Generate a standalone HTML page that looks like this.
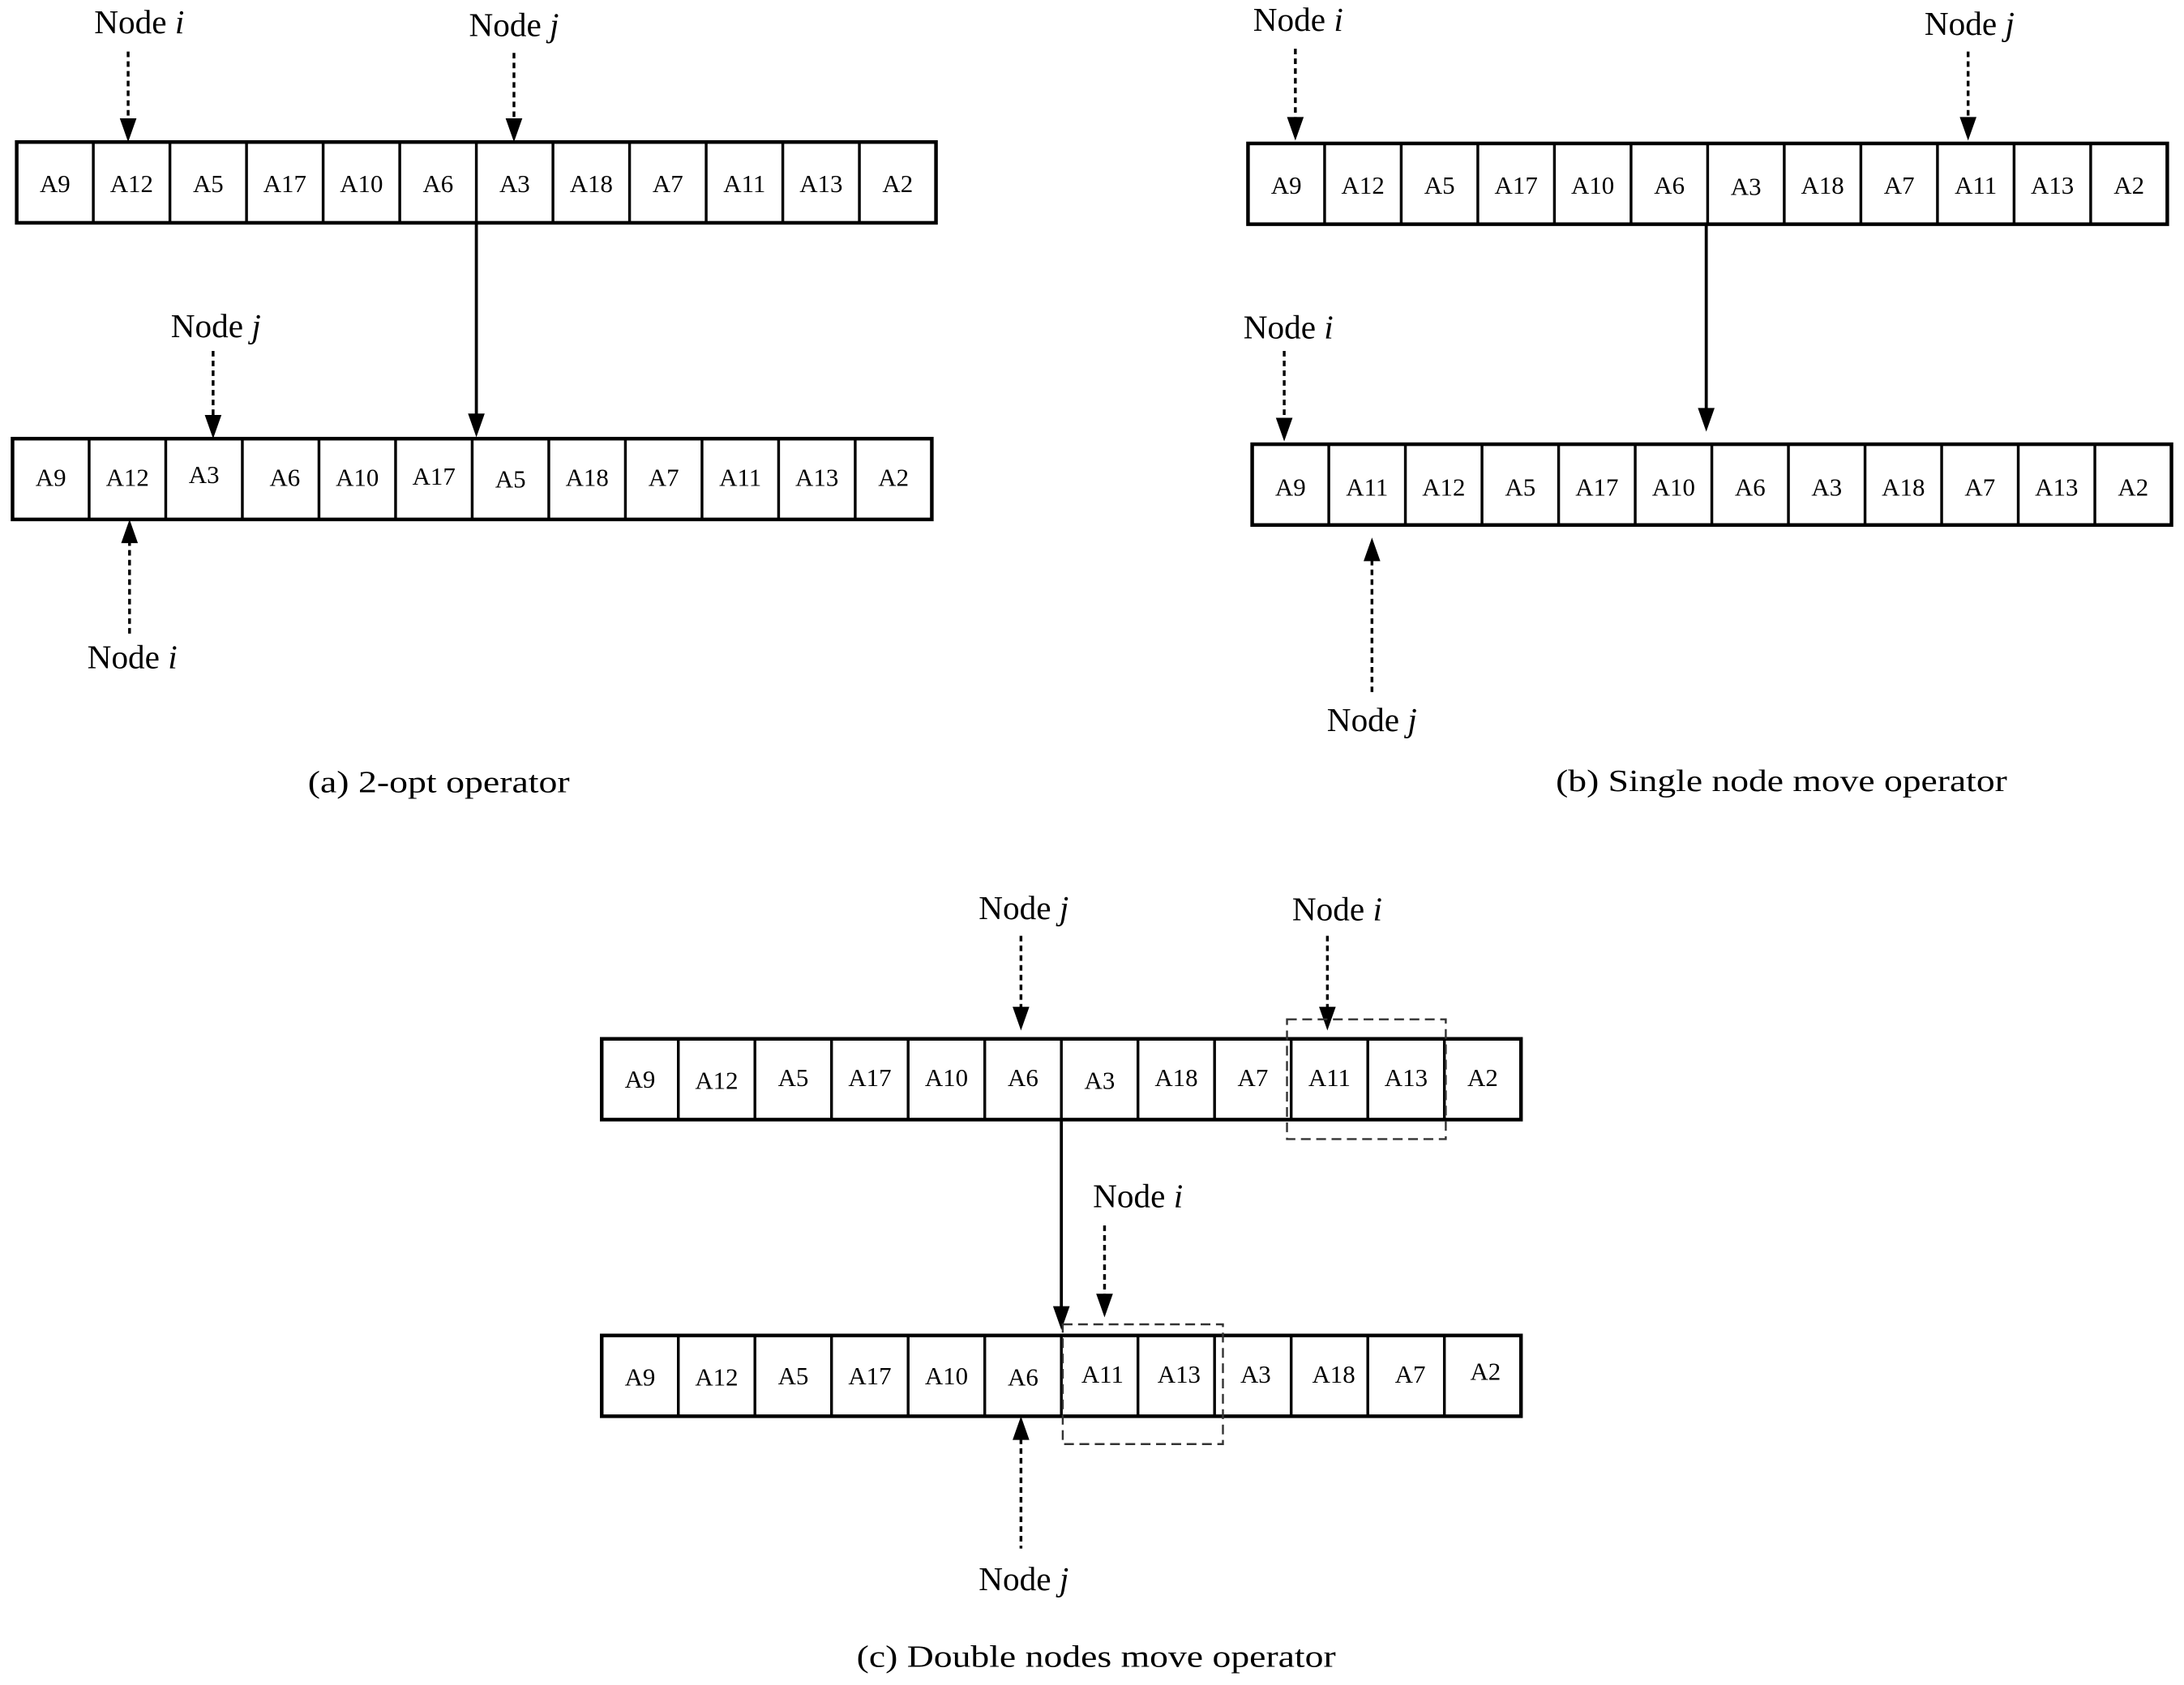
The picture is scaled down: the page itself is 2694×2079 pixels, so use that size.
<!DOCTYPE html>
<html><head><meta charset="utf-8"><style>
html,body{margin:0;padding:0;background:#fff;}
svg{display:block;}
text{font-family:"Liberation Serif",serif;fill:#000;}
.c{font-size:18px;text-anchor:middle;}
.l{font-size:24px;text-anchor:middle;}
.cap{font-size:22px;text-anchor:middle;}
.box{fill:none;stroke:#000;stroke-width:2.6;}
.dv{stroke:#000;stroke-width:2;}
.da{stroke:#000;stroke-width:2;stroke-dasharray:4 3;fill:none;}
.so{stroke:#000;stroke-width:2.2;}
.db{fill:none;stroke:#333;stroke-width:1.4;stroke-dasharray:7 4;}
</style></head><body>
<svg width="2694" height="2079" viewBox="0 0 1568 1210" preserveAspectRatio="none" xmlns="http://www.w3.org/2000/svg">
<defs>
<g id="dn"><polygon points="-6,-17 6,-17 0,0" fill="#000"/></g>
<g id="up"><polygon points="-6,17 6,17 0,0" fill="#000"/></g>
<g id="dv"><line class="dv" x1="55" y1="0" x2="55" y2="58"/><line class="dv" x1="110" y1="0" x2="110" y2="58"/><line class="dv" x1="165" y1="0" x2="165" y2="58"/><line class="dv" x1="220" y1="0" x2="220" y2="58"/><line class="dv" x1="275" y1="0" x2="275" y2="58"/><line class="dv" x1="330" y1="0" x2="330" y2="58"/><line class="dv" x1="385" y1="0" x2="385" y2="58"/><line class="dv" x1="440" y1="0" x2="440" y2="58"/><line class="dv" x1="495" y1="0" x2="495" y2="58"/><line class="dv" x1="550" y1="0" x2="550" y2="58"/><line class="dv" x1="605" y1="0" x2="605" y2="58"/><rect class="box" x="0" y="0" width="660" height="58"/></g>
</defs>

<!-- (a) -->
<text class="l" x="100" y="24">Node <tspan font-style="italic">i</tspan></text>
<line class="da" x1="92" y1="37" x2="92" y2="88"/><use href="#dn" x="92" y="102"/>
<text class="l" x="369" y="26">Node <tspan font-style="italic">j</tspan></text>
<line class="da" x1="369" y1="38" x2="369" y2="88"/><use href="#dn" x="369" y="102"/>
<use href="#dv" x="12" y="102"/>
<g class="c">
<text x="39.5" y="138">A9</text><text x="94.5" y="138">A12</text><text x="149.5" y="138">A5</text><text x="204.5" y="138">A17</text><text x="259.5" y="138">A10</text><text x="314.5" y="138">A6</text><text x="369.5" y="138">A3</text><text x="424.5" y="138">A18</text><text x="479.5" y="138">A7</text><text x="534.5" y="138">A11</text><text x="589.5" y="138">A13</text><text x="644.5" y="138">A2</text>
</g>
<line class="so" x1="342" y1="160" x2="342" y2="298"/><use href="#dn" x="342" y="314"/>
<text class="l" x="155" y="242">Node <tspan font-style="italic">j</tspan></text>
<line class="da" x1="153" y1="252" x2="153" y2="300"/><use href="#dn" x="153" y="315"/>
<use href="#dv" x="9" y="315"/>
<g class="c">
<text x="36.5" y="349">A9</text><text x="91.5" y="349">A12</text><text x="146.5" y="347">A3</text><text x="204.5" y="349">A6</text><text x="256.5" y="349">A10</text><text x="311.5" y="348">A17</text><text x="366.5" y="350">A5</text><text x="421.5" y="349">A18</text><text x="476.5" y="349">A7</text><text x="531.5" y="349">A11</text><text x="586.5" y="349">A13</text><text x="641.5" y="349">A2</text>
</g>
<use href="#up" x="93" y="373"/><line class="da" x1="93" y1="388" x2="93" y2="455"/>
<text class="l" x="95" y="480">Node <tspan font-style="italic">i</tspan></text>
<text class="cap" x="315" y="569" textLength="188" lengthAdjust="spacingAndGlyphs">(a) 2-opt operator</text>

<!-- (b) -->
<text class="l" x="932" y="22">Node <tspan font-style="italic">i</tspan></text>
<line class="da" x1="930" y1="35" x2="930" y2="86"/><use href="#dn" x="930" y="101"/>
<text class="l" x="1414" y="25">Node <tspan font-style="italic">j</tspan></text>
<line class="da" x1="1413" y1="37" x2="1413" y2="86"/><use href="#dn" x="1413" y="101"/>
<use href="#dv" x="896" y="103"/>
<g class="c">
<text x="923.5" y="139">A9</text><text x="978.5" y="139">A12</text><text x="1033.5" y="139">A5</text><text x="1088.5" y="139">A17</text><text x="1143.5" y="139">A10</text><text x="1198.5" y="139">A6</text><text x="1253.5" y="140">A3</text><text x="1308.5" y="139">A18</text><text x="1363.5" y="139">A7</text><text x="1418.5" y="139">A11</text><text x="1473.5" y="139">A13</text><text x="1528.5" y="139">A2</text>
</g>
<line class="so" x1="1225" y1="160" x2="1225" y2="294"/><use href="#dn" x="1225" y="310"/>
<text class="l" x="925" y="243">Node <tspan font-style="italic">i</tspan></text>
<line class="da" x1="922" y1="252" x2="922" y2="302"/><use href="#dn" x="922" y="317"/>
<use href="#dv" x="899" y="319"/>
<g class="c">
<text x="926.5" y="356">A9</text><text x="981.5" y="356">A11</text><text x="1036.5" y="356">A12</text><text x="1091.5" y="356">A5</text><text x="1146.5" y="356">A17</text><text x="1201.5" y="356">A10</text><text x="1256.5" y="356">A6</text><text x="1311.5" y="356">A3</text><text x="1366.5" y="356">A18</text><text x="1421.5" y="356">A7</text><text x="1476.5" y="356">A13</text><text x="1531.5" y="356">A2</text>
</g>
<use href="#up" x="985" y="386"/><line class="da" x1="985" y1="402" x2="985" y2="500"/>
<text class="l" x="985" y="525">Node <tspan font-style="italic">j</tspan></text>
<text class="cap" x="1279" y="568" textLength="324" lengthAdjust="spacingAndGlyphs">(b) Single node move operator</text>

<!-- (c) -->
<text class="l" x="735" y="660">Node <tspan font-style="italic">j</tspan></text>
<line class="da" x1="733" y1="672" x2="733" y2="724"/><use href="#dn" x="733" y="740"/>
<text class="l" x="960" y="661">Node <tspan font-style="italic">i</tspan></text>
<line class="da" x1="953" y1="672" x2="953" y2="724"/><use href="#dn" x="953" y="740"/>
<use href="#dv" x="432" y="746"/>
<g class="c">
<text x="459.5" y="781">A9</text><text x="514.5" y="782">A12</text><text x="569.5" y="780">A5</text><text x="624.5" y="780">A17</text><text x="679.5" y="780">A10</text><text x="734.5" y="780">A6</text><text x="789.5" y="782">A3</text><text x="844.5" y="780">A18</text><text x="899.5" y="780">A7</text><text x="954.5" y="780">A11</text><text x="1009.5" y="780">A13</text><text x="1064.5" y="780">A2</text>
</g>
<rect class="db" x="924" y="732" width="114" height="86"/>
<line class="so" x1="762" y1="803" x2="762" y2="939"/><use href="#dn" x="762" y="955"/>
<text class="l" x="817" y="867">Node <tspan font-style="italic">i</tspan></text>
<line class="da" x1="793" y1="880" x2="793" y2="930"/><use href="#dn" x="793" y="946"/>
<use href="#dv" x="432" y="959"/>
<g class="c">
<text x="459.5" y="995">A9</text><text x="514.5" y="995">A12</text><text x="569.5" y="994">A5</text><text x="624.5" y="994">A17</text><text x="679.5" y="994">A10</text><text x="734.5" y="995">A6</text><text x="791.5" y="993">A11</text><text x="846.5" y="993">A13</text><text x="901.5" y="993">A3</text><text x="957.5" y="993">A18</text><text x="1012.5" y="993">A7</text><text x="1066.5" y="991">A2</text>
</g>
<rect class="db" x="763" y="951" width="115" height="86"/>
<use href="#up" x="733" y="1017"/><line class="da" x1="733" y1="1033" x2="733" y2="1112"/>
<text class="l" x="735" y="1142">Node <tspan font-style="italic">j</tspan></text>
<text class="cap" x="787" y="1197" textLength="344" lengthAdjust="spacingAndGlyphs">(c) Double nodes move operator</text>
</svg>
</body></html>
